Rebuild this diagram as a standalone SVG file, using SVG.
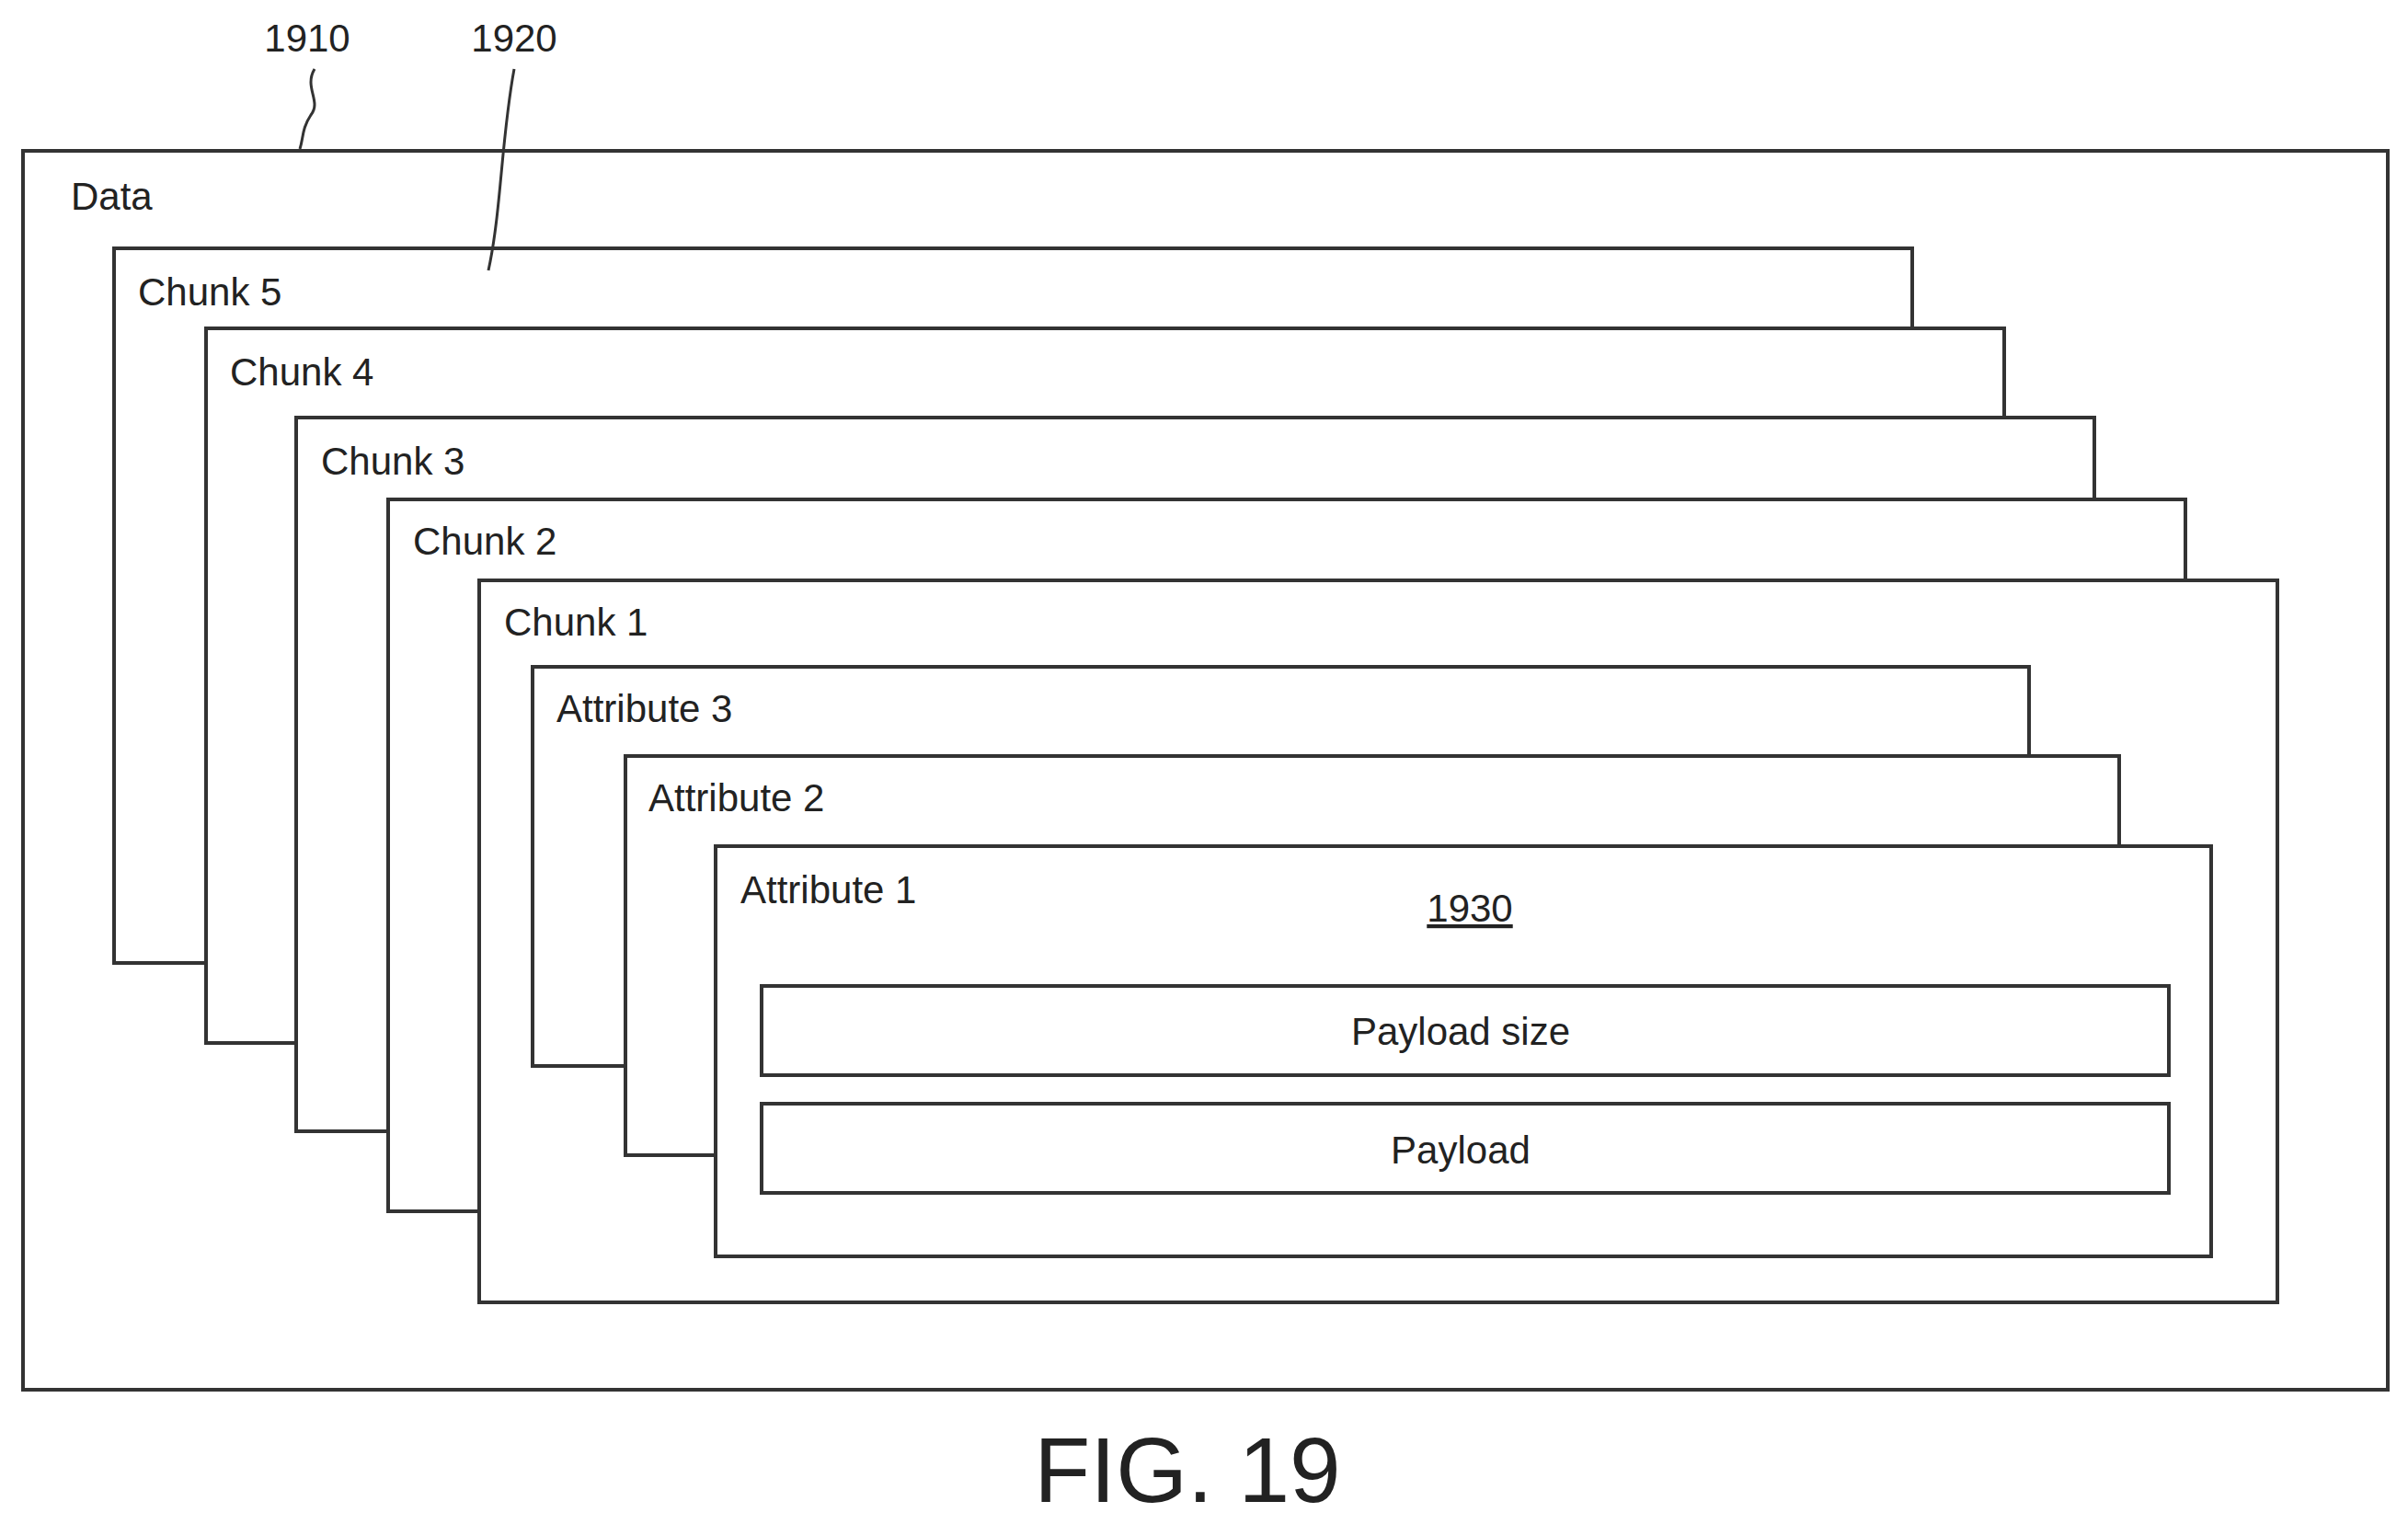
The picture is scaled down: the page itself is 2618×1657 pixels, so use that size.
<svg xmlns="http://www.w3.org/2000/svg" width="2618" height="1657" viewBox="0 0 2618 1657">
<style>
.b{fill:#fff;stroke:#333;stroke-width:4}
.t{font-family:"Liberation Sans",Arial,sans-serif;font-size:42px;fill:#222}
.c{text-anchor:middle}
.l{fill:none;stroke:#333;stroke-width:3}
</style>
<rect width="2618" height="1657" fill="#fff"/>
<g id="data"><rect class="b" x="25" y="164" width="2571" height="1347"/><text class="t" x="77" y="228">Data</text></g>
<g id="chunk5"><rect class="b" x="124" y="270" width="1955" height="777"/><text class="t" x="150" y="332">Chunk 5</text></g>
<g id="chunk4"><rect class="b" x="224" y="357" width="1955" height="777"/><text class="t" x="250" y="419">Chunk 4</text></g>
<g id="chunk3"><rect class="b" x="322" y="454" width="1955" height="776"/><text class="t" x="349" y="516">Chunk 3</text></g>
<g id="chunk2"><rect class="b" x="422" y="543" width="1954" height="774"/><text class="t" x="449" y="603">Chunk 2</text></g>
<g id="chunk1"><rect class="b" x="521" y="631" width="1955" height="785"/><text class="t" x="548" y="691">Chunk 1</text></g>
<g id="attr3"><rect class="b" x="579" y="725" width="1627" height="434"/><text class="t" x="605" y="785">Attribute 3</text></g>
<g id="attr2"><rect class="b" x="680" y="822" width="1624" height="434"/><text class="t" x="705" y="882">Attribute 2</text></g>
<g id="attr1"><rect class="b" x="778" y="920" width="1626" height="446"/><text class="t" x="805" y="982">Attribute 1</text>
<text class="t c" x="1598" y="1002" text-decoration="underline">1930</text></g>
<g id="payloadsize"><rect class="b" x="828" y="1072" width="1530" height="97"/><text class="t c" x="1588" y="1136">Payload size</text></g>
<g id="payload"><rect class="b" x="828" y="1200" width="1530" height="97"/><text class="t c" x="1588" y="1265">Payload</text></g>
<g id="connectors">
<path class="l" d="M342 75 C330 95,350 110,338 125 C328 140,330 150,326 162"/>
<path class="l" d="M559 75 C545 150,545 230,531 294"/>
</g>
<text class="t c" x="334" y="56">1910</text>
<text class="t c" x="559" y="56">1920</text>
<text class="c" x="1291" y="1633" font-family="Liberation Sans,Arial,sans-serif" font-size="100" fill="#222">FIG. 19</text>
</svg>
